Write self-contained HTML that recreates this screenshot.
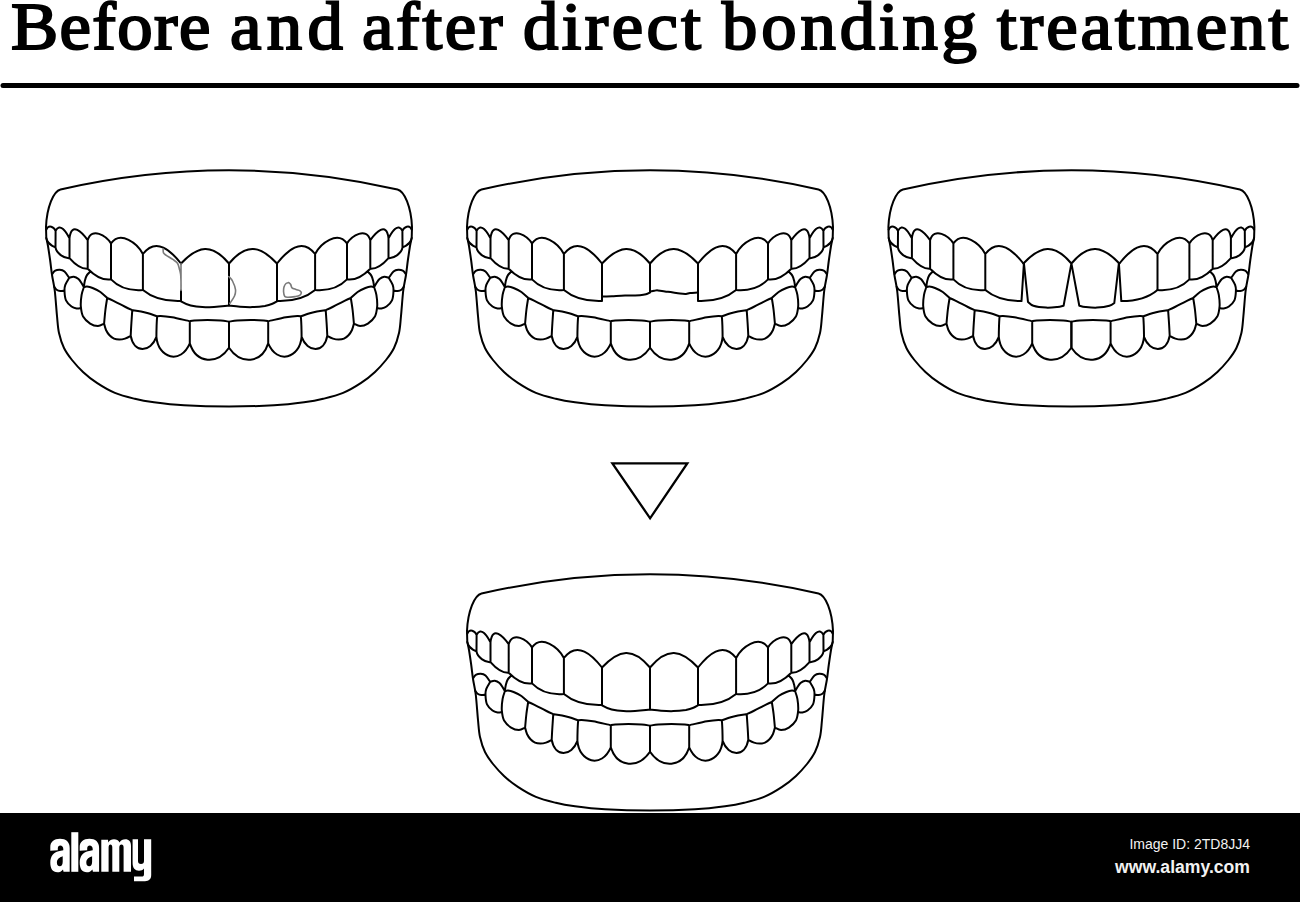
<!DOCTYPE html>
<html><head><meta charset="utf-8"><style>
html,body{margin:0;padding:0;background:#fff;}
body{width:1300px;height:902px;position:relative;overflow:hidden;}
.tw{position:absolute;top:-24px;font-family:"Liberation Serif",serif;-webkit-text-stroke:2.1px #000;font-size:68px;line-height:100px;white-space:nowrap;color:#000;transform-origin:0 0;transform:scaleX(1.04);}
.foot{position:absolute;left:0;top:813px;width:1300px;height:89px;background:#000;}
.logo{position:absolute;left:50px;top:818px;font-family:"Liberation Sans",sans-serif;font-weight:bold;font-size:60px;line-height:70px;color:#fff;transform-origin:0 0;transform:scaleX(0.6);letter-spacing:-1px;white-space:nowrap;}
.id{position:absolute;right:50px;top:835px;font-family:"Liberation Sans",sans-serif;font-size:14px;line-height:18px;color:#f2f2f2;white-space:nowrap;}
.www{position:absolute;right:50px;top:856px;font-family:"Liberation Sans",sans-serif;font-weight:bold;font-size:17.6px;line-height:22px;color:#f2f2f2;white-space:nowrap;}
</style></head><body>
<div class="tw" style="left:11.3px;letter-spacing:1.32px">Before</div>
<div class="tw" style="left:229.9px;letter-spacing:5.14px">and</div>
<div class="tw" style="left:361.6px;letter-spacing:2.63px">after</div>
<div class="tw" style="left:522.9px;letter-spacing:3.25px">direct</div>
<div class="tw" style="left:722.0px;letter-spacing:3.71px">bonding</div>
<div class="tw" style="left:996.6px;letter-spacing:2.89px">treatment</div>
<svg width="1300" height="902" viewBox="0 0 1300 902" style="position:absolute;left:0;top:0">
<defs><g id="half"><path d="M467.30,229.50 C469.59,224.43 475.01,226.67 476.60,230.90 M476.60,230.90 C481.41,221.50 487.94,234.00 490.50,238.10 M490.50,238.10 C492.50,221.09 503.26,232.61 508.70,240.20 M508.70,240.20 C512.79,226.60 527.14,235.87 532.00,243.40 M532.00,243.40 C541.42,230.00 558.74,243.62 563.90,254.00 M563.90,254.00 C577.37,236.53 592.25,251.17 602.00,263.50 M476.6,230.9 L476.5,247.5 M490.5,238.1 L490.5,258.1 M508.7,240.2 L508.7,268.7 M532.0,243.4 L532.0,279.4 M563.9,254.0 L563.9,290.0 M467.30,238.00 C467.80,243.11 472.55,245.49 476.50,247.50 M476.50,247.50 C477.52,253.17 484.83,258.56 490.50,258.10 M490.50,258.10 C495.11,263.35 501.05,269.20 508.70,268.70 M508.70,268.70 C514.82,274.92 522.82,280.72 532.00,279.40 M532.00,279.40 C540.19,287.86 552.49,290.95 563.90,290.00 M511.6,271.4 C511.0,272.1 508.8,273.8 507.8,275.4 C506.8,277.0 506.3,278.9 505.8,280.9 C505.3,282.9 505.0,286.1 504.9,287.2 M473.2,274.0 C473.7,273.4 474.9,271.3 476.2,270.6 C477.5,269.9 479.2,269.6 480.8,269.7 C482.4,269.8 483.9,270.1 485.5,271.5 C487.1,272.9 489.4,276.8 490.2,277.8 M475.3,286.8 C475.7,287.3 476.6,289.0 477.6,289.7 C478.6,290.4 480.0,290.9 481.2,291.0 C482.4,291.1 484.3,290.7 484.9,290.6 M490.2,277.8 C489.6,279.0 487.1,282.6 486.3,284.8 C485.5,287.0 485.4,288.4 485.5,291.0 C485.6,293.6 485.8,297.7 487.0,300.3 C488.2,302.9 490.7,305.1 492.5,306.5 C494.3,307.9 496.3,308.2 497.9,308.5 C499.4,308.8 501.1,308.2 501.8,308.2 M490.2,277.8 C491.0,277.6 493.2,276.5 494.8,276.7 C496.4,276.9 498.2,277.9 499.5,279.0 C500.8,280.1 501.7,281.9 502.6,283.3 C503.5,284.7 504.5,286.6 504.9,287.2 M504.9,287.2 C505.4,287.1 506.6,286.5 508.0,286.6 C509.4,286.7 511.4,287.1 513.6,288.0 C515.8,288.9 519.0,290.3 521.4,292.0 C523.8,293.7 527.1,297.0 528.2,298.0 M504.9,287.2 C504.5,288.5 503.1,291.8 502.6,294.9 C502.1,298.0 501.6,302.4 501.8,306.0 C502.1,309.6 502.6,313.7 504.1,316.6 C505.7,319.5 508.6,322.0 511.1,323.6 C513.6,325.2 516.6,326.0 518.9,326.0 C521.2,326.0 524.1,324.0 525.1,323.6 M528.2,298.0 C527.9,300.0 526.9,305.7 526.4,310.0 C525.9,314.3 525.3,321.3 525.1,323.6 M528.2,298.0 C529.2,298.4 532.0,299.6 534.0,300.6 C536.0,301.6 538.4,302.8 540.5,303.9 C542.6,305.0 544.4,305.9 546.5,307.0 C548.6,308.1 552.2,309.7 553.3,310.2 M525.1,323.6 C525.4,324.7 526.1,328.1 527.0,330.0 C527.9,331.9 529.2,333.9 530.5,335.3 C531.8,336.7 533.4,337.9 535.0,338.6 C536.6,339.3 538.5,339.5 540.3,339.5 C542.1,339.5 544.1,339.2 546.0,338.6 C547.9,338.0 550.8,336.3 551.7,335.8 M553.3,310.2 C553.1,312.3 552.7,318.7 552.4,323.0 C552.1,327.3 551.8,333.7 551.7,335.8 M553.3,310.2 C554.8,310.4 559.5,311.0 562.1,311.5 C564.8,312.0 566.5,312.5 569.2,313.3 C571.9,314.1 576.6,315.9 578.1,316.4 M551.70,335.80 C554.90,353.68 571.48,352.84 577.40,336.80 M578.1,316.4 C578.0,318.0 577.7,322.6 577.6,326.0 C577.5,329.4 577.4,335.0 577.4,336.8 M578.1,316.4 C578.7,316.3 579.1,315.8 581.6,315.9 C584.1,316.0 588.2,316.4 593.1,317.3 C598.0,318.2 607.8,320.6 610.8,321.2 M577.40,336.80 C579.21,358.36 601.65,365.00 610.80,343.40 M610.8,321.2 L610.8,343.4 M610.8,321.2 C611.5,321.1 612.2,320.6 615.2,320.4 C618.2,320.2 624.1,319.9 628.5,319.9 C632.9,319.9 638.2,320.1 641.8,320.4 C645.4,320.7 648.6,321.5 650.0,321.7 M610.80,343.40 C617.32,363.80 638.43,364.90 650.00,347.80 M650,321.7 L650,347.8"/></g>
<g id="base"><path d="M818.5,189.5 Q650,151.1 481.5,189.5 C474.5,191.2 467.8,207 467,227 L467.3,238.0 C467.6,239.3 468.4,242.3 469.0,246.0 C469.6,249.7 470.4,255.1 471.1,260.0 C471.8,264.9 472.3,270.3 473.1,275.5 C473.9,280.7 475.0,284.2 475.8,291.0 C476.6,297.8 477.3,309.0 478.0,316.0 C478.7,323.0 478.8,327.7 480.0,333.0 C481.2,338.3 482.8,343.5 485.0,348.0 C487.2,352.5 489.8,356.0 493.0,360.0 C496.2,364.0 499.9,368.1 504.0,371.9 C508.1,375.7 512.6,379.4 517.9,382.9 C523.2,386.4 529.6,390.2 535.9,392.9 C542.2,395.5 549.3,397.2 555.8,398.8 C562.3,400.4 566.8,401.2 575.0,402.3 C583.2,403.4 592.5,404.6 605.0,405.3 C617.5,406.0 635.0,406.5 650.0,406.5 C665.0,406.5 682.5,406.0 695.0,405.3 C707.5,404.6 716.8,403.4 725.0,402.3 C733.2,401.2 737.7,400.4 744.2,398.8 C750.7,397.2 757.8,395.5 764.1,392.9 C770.4,390.2 776.8,386.4 782.1,382.9 C787.4,379.4 791.9,375.7 796.0,371.9 C800.1,368.1 803.8,364.0 807.0,360.0 C810.2,356.0 812.8,352.5 815.0,348.0 C817.2,343.5 818.8,338.3 820.0,333.0 C821.2,327.7 821.3,323.0 822.0,316.0 C822.7,309.0 823.4,297.8 824.2,291.0 C825.0,284.2 826.1,280.7 826.9,275.5 C827.7,270.3 828.2,264.9 828.9,260.0 C829.6,255.1 830.4,249.7 831.0,246.0 C831.6,242.3 832.4,239.3 832.7,238.0 L833,227 C832.2,207 825.5,191.2 818.5,189.5 Z"/><use href="#half"/><use href="#half" transform="matrix(-1,0,0,1,1300,0)"/></g></defs>
<g fill="none" stroke="#000" stroke-width="2.00" stroke-linecap="round" stroke-linejoin="round">
<g transform="translate(-421,0)"><use href="#base"/><path d="M602,290.4 L602,301 M563.90,290.00 C574.15,298.59 588.82,301.47 602.00,301.00"/><path d="M698,263.5 L698,301 M736.10,290.00 C725.85,298.59 711.18,301.47 698.00,301.00"/><path d="M602.00,263.50 C619.22,245.13 632.88,243.01 650.00,263.50 M698.00,263.50 C680.78,245.13 667.12,243.01 650.00,263.50 M650,263.5 L650,305.5 M602.00,301.30 C616.27,309.84 634.31,307.04 650.00,305.50 M698.0,301.3 C697.2,301.7 695.4,303.0 693.4,303.8 C691.4,304.6 689.2,305.3 685.9,305.9 C682.6,306.4 677.5,307.0 673.4,307.1 C669.2,307.2 664.9,307.0 661.0,306.7 C657.1,306.4 651.8,305.7 650.0,305.5"/><path d="M584.1,248.9 C584.2,249.6 584.0,251.8 584.5,252.8 C585.0,253.8 585.4,254.0 586.9,255.1 C588.4,256.2 591.9,258.0 593.8,259.4 C595.7,260.8 597.4,261.8 598.5,263.3 C599.6,264.9 599.8,266.9 600.3,268.7 C600.8,270.5 601.3,271.9 601.6,274.1 C601.9,276.3 601.9,279.3 602.0,282.0 C602.1,284.7 602.0,289.0 602.0,290.4 M602,263.5 L602,290.4 M649.8,276.5 C650.4,277.2 652.4,278.8 653.5,281.0 C654.6,283.2 656.2,287.2 656.5,289.7 C656.8,292.2 656.5,293.7 655.5,296.0 C654.5,298.3 651.6,302.2 650.8,303.5 M709.7,282.6 C710.0,282.9 711.2,283.6 711.7,284.5 C712.2,285.4 712.1,287.0 713.0,287.8 C713.9,288.6 715.7,289.0 717.0,289.5 C718.3,290.0 720.1,290.2 721.0,290.8 C721.9,291.4 722.4,292.2 722.3,293.0 C722.2,293.8 721.5,294.9 720.5,295.5 C719.5,296.1 717.9,296.3 716.0,296.6 C714.1,296.9 710.7,297.3 709.0,297.3 C707.3,297.3 706.5,297.4 705.8,296.5 C705.1,295.6 704.7,293.6 704.6,292.0 C704.5,290.4 704.6,288.4 705.0,287.0 C705.4,285.6 706.2,284.2 707.0,283.5 C707.8,282.8 709.2,282.8 709.7,282.6 Z" stroke="#7a7a7a" stroke-width="1.6"/></g>
<g><use href="#base"/><path d="M602,263.5 L602,301 M563.90,290.00 C574.15,298.59 588.82,301.47 602.00,301.00"/><path d="M698,263.5 L698,301 M736.10,290.00 C725.85,298.59 711.18,301.47 698.00,301.00"/><path d="M602.00,263.50 C619.22,245.13 632.88,243.01 650.00,263.50 M698.00,263.50 C680.78,245.13 667.12,243.01 650.00,263.50 M650,263.5 L650,292.6 M602.0,296.6 C603.7,296.6 608.2,296.5 612.0,296.3 C615.8,296.1 620.3,295.8 625.0,295.6 C629.7,295.4 636.5,295.4 640.0,295.2 C643.5,295.0 644.3,294.8 646.0,294.3 C647.7,293.9 649.3,292.8 650.0,292.5 M650.0,291.6 C650.7,291.5 652.7,291.0 654.0,290.8 C655.3,290.6 655.7,290.2 658.0,290.4 C660.3,290.6 664.3,291.3 668.0,291.8 C671.7,292.3 677.0,293.2 680.0,293.6 C683.0,294.0 684.3,294.1 686.0,294.0 C687.7,293.9 688.1,293.2 690.0,293.0 C691.9,292.8 696.3,292.7 697.6,292.6"/></g>
<g transform="translate(421.4,0)"><use href="#base"/><path d="M602.5,263.2 L600.1,301.1 M563.90,290.00 C573.57,298.22 587.64,301.12 600.10,301.10"/><path d="M697.5,263.2 L699.9,301.1 M736.10,290.00 C726.43,298.22 712.36,301.12 699.90,301.10"/><path d="M602.00,263.50 C619.22,245.13 632.88,243.01 650.00,263.50 M698.00,263.50 C680.78,245.13 667.12,243.01 650.00,263.50 M602.5,263.2 L606.6,302.0 M606.6,302.0 C607.5,302.6 609.0,304.9 612.0,305.8 C615.0,306.7 620.6,307.4 624.6,307.6 C628.6,307.8 633.1,307.3 636.0,307.0 C638.9,306.7 641.2,305.9 642.2,305.7 M642.2,305.7 L650.0,263.4 M650.0,263.4 L657.9,305.7 M657.9,305.7 C658.9,305.9 661.0,306.7 664.0,307.0 C667.0,307.3 671.6,307.8 675.6,307.6 C679.6,307.4 685.1,306.6 688.0,305.8 C690.9,305.0 692.1,303.5 692.9,303.0 M692.9,303.0 L697.5,263.2"/></g>
<g transform="translate(0,404)"><use href="#base"/><path d="M602,263.5 L602,301 M563.90,290.00 C574.15,298.59 588.82,301.47 602.00,301.00"/><path d="M698,263.5 L698,301 M736.10,290.00 C725.85,298.59 711.18,301.47 698.00,301.00"/><path d="M602.00,263.50 C619.22,245.13 632.88,243.01 650.00,263.50 M698.00,263.50 C680.78,245.13 667.12,243.01 650.00,263.50 M650,263.5 L650,305.5 M602.00,301.30 C616.27,309.84 634.31,307.04 650.00,305.50 M698.0,301.3 C697.2,301.7 695.4,303.0 693.4,303.8 C691.4,304.6 689.2,305.3 685.9,305.9 C682.6,306.4 677.5,307.0 673.4,307.1 C669.2,307.2 664.9,307.0 661.0,306.7 C657.1,306.4 651.8,305.7 650.0,305.5"/></g>
<path d="M612.4,463.3 L687.3,463.3 L650.1,518.3 Z" stroke-linejoin="miter" stroke-width="2.3"/>
</g>
<line x1="3" y1="85.5" x2="1297" y2="85.5" stroke="#000" stroke-width="5" stroke-linecap="round"/>
</svg>
<div class="foot"></div>
<svg width="1300" height="902" viewBox="0 0 1300 902" style="position:absolute;left:0;top:0"><g fill="#fff" fill-rule="evenodd">
<path id="la" d="M50.3,850.7 L50.3,847 C50.3,842 54,838.8 60,838.8 C66,838.8 69.7,842 69.7,848 L69.7,871.8 L63.5,871.8 L63,869.5 C61.5,871.5 59.5,872.3 57.5,872.3 C52.5,872.3 50.3,868.5 50.3,862.5 C50.3,856 54,852.5 58.5,851.3 L63.3,850.3 L63.3,849 C63.3,846.8 62,845.5 60.3,845.5 C58.8,845.5 57.8,846.8 57.8,848.5 L57.8,850.2 Z M62.7,856.3 C60,857.3 56.9,858.8 56.9,862.5 C56.9,865 58,866.3 59.8,866.3 C61.8,866.3 62.7,864.3 62.7,861.8 Z"/>
<rect x="71.3" y="832.2" width="7" height="39.6"/>
<use href="#la" transform="translate(29.4,0)"/>
<path d="M101.3,871.8 L101.3,839.8 L108,839.8 L108.3,842.5 C109.5,840.3 111.5,839.3 114,839.3 C116.5,839.3 118.5,840.5 119.5,842.5 C120.8,840.3 122.8,839.3 125.3,839.3 C129,839.3 131,841.5 131,846 L131,871.8 L123.6,871.8 L123.6,847.5 C123.6,845.5 122.8,844.6 121.5,844.6 C120.2,844.6 119.3,845.7 119.3,847.5 L119.3,871.8 L112.3,871.8 L112.3,847.5 C112.3,845.5 111.5,844.6 110.5,844.6 C109.3,844.6 108.6,845.7 108.6,847.5 L108.6,871.8 Z"/>
<path d="M132.6,839.3 L138,839.3 L138,861 C138,863 139,864 141,864 C143,864 144,863 144,861 L144,839.3 L151.2,839.3 L151.2,875 C151.2,879 149,881.2 145,881.2 L134,881.2 L134,876.5 L142.5,876.5 C143.5,876.5 144,875.5 144,874 L144,868.5 C143,870 141,870.7 139,870.7 C135,870.7 132.6,868 132.6,863 Z"/>
</g></svg>
<div class="id">Image ID: 2TD8JJ4</div>
<div class="www">www.alamy.com</div>
</body></html>
